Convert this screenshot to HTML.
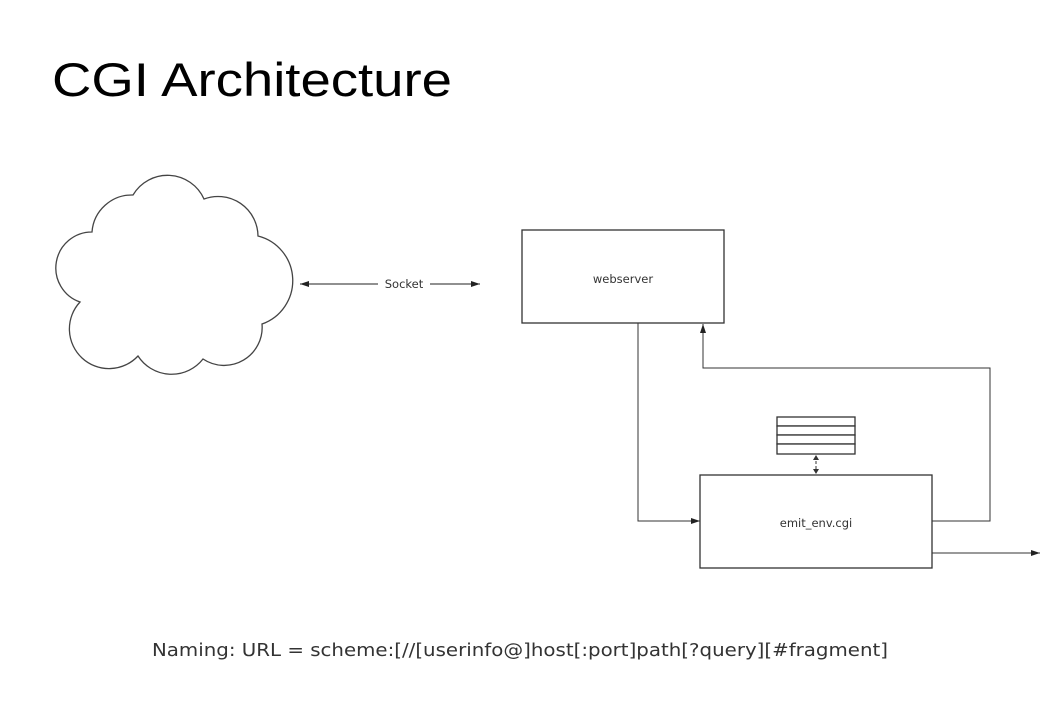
<!DOCTYPE html>
<html><head><style>
html,body{margin:0;padding:0;background:#fff;width:1064px;height:722px;overflow:hidden}
</style></head><body>
<svg width="1064" height="722" xmlns="http://www.w3.org/2000/svg">
<defs>
<marker id="a" markerWidth="10" markerHeight="8" refX="9" refY="4" orient="auto" markerUnits="userSpaceOnUse"><path d="M0,1 L9,4 L0,7 Z" fill="#222"/></marker>
<marker id="s" markerWidth="10" markerHeight="8" refX="9" refY="4" orient="auto-start-reverse" markerUnits="userSpaceOnUse"><path d="M0,1 L9,4 L0,7 Z" fill="#222"/></marker>
</defs>
<text x="52" y="96" font-family="Liberation Sans, sans-serif" font-size="47" fill="#000" textLength="400" lengthAdjust="spacingAndGlyphs">CGI Architecture</text>
<path d="M133,195 A40,40 0 0 1 204,199 A40,40 0 0 1 258,236 A46,46 0 0 1 262,324 A38,38 0 0 1 203,359 A40,40 0 0 1 138,356 A38,38 0 0 1 80,302 A36,36 0 0 1 92,232 A40,40 0 0 1 133,195 Z" fill="#fff" stroke="#444" stroke-width="1.3"/>
<line x1="300" y1="284" x2="378" y2="284" stroke="#222" marker-start="url(#s)"/>
<line x1="430" y1="284" x2="480" y2="284" stroke="#222" marker-end="url(#a)"/>
<text x="404" y="288" font-family="DejaVu Sans, sans-serif" font-size="11.5" fill="#333" text-anchor="middle">Socket</text>
<rect x="522" y="230" width="202" height="93" fill="#fff" stroke="#333" stroke-width="1.3"/>
<text x="623" y="283" font-family="DejaVu Sans, sans-serif" font-size="11.5" fill="#333" text-anchor="middle">webserver</text>
<polyline points="638,323 638,521 700,521" fill="none" stroke="#333" marker-end="url(#a)"/>
<rect x="700" y="475" width="232" height="93" fill="#fff" stroke="#333" stroke-width="1.3"/>
<text x="816" y="527" font-family="DejaVu Sans, sans-serif" font-size="11.5" fill="#333" text-anchor="middle">emit_env.cgi</text>
<polyline points="932,521 990,521 990,368 703,368 703,324" fill="none" stroke="#333" marker-end="url(#a)"/>
<line x1="932" y1="553" x2="1040" y2="553" stroke="#333" marker-end="url(#a)"/>
<g fill="#fff" stroke="#333" stroke-width="1.3">
<rect x="777" y="417" width="78" height="9"/><rect x="777" y="426" width="78" height="9"/><rect x="777" y="435" width="78" height="9"/><rect x="777" y="444" width="78" height="10"/>
</g>
<line x1="816" y1="456" x2="816" y2="473" stroke="#333" stroke-dasharray="3,2"/>
<path d="M813,460 L816,455 L819,460 Z M813,469 L816,474 L819,469 Z" fill="#333"/>
<text x="152" y="656" font-family="DejaVu Sans, sans-serif" font-size="18" fill="#333" textLength="736" lengthAdjust="spacingAndGlyphs">Naming:  URL = scheme:[//[userinfo@]host[:port]path[?query][#fragment]</text>
</svg>
</body></html>
